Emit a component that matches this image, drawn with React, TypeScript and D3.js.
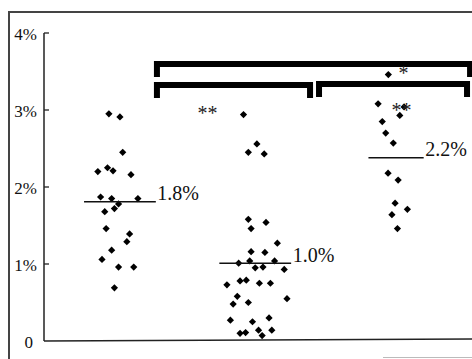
import React from "react";
import * as d3 from "d3";

// ---- data (values in %; jitter in group units) ----
const groupCenters = [1.0, 1.98, 3.0];
const meanValues = [1.81, 1.01, 2.38];
const meanLabels = ["1.8%", "1.0%", "2.2%"];

const group1Jitter = [-0.08, 0.0, 0.02, -0.16, -0.09, -0.05, 0.08, -0.14, -0.06, 0.13, -0.01, -0.04, -0.11, -0.1, 0.07, 0.05, -0.06, -0.13, -0.01, 0.1, -0.04];
const group1Values = [2.95, 2.91, 2.45, 2.2, 2.25, 2.21, 2.16, 1.87, 1.85, 1.85, 1.78, 1.72, 1.68, 1.46, 1.39, 1.29, 1.18, 1.06, 0.96, 0.96, 0.69];

const group2Jitter = [-0.085, 0.012, -0.05, 0.065, -0.05, 0.078, -0.03, 0.16, -0.03, 0.07, -0.12, -0.04, 0.14, 0.0, 0.056, 0.21, -0.205, -0.11, -0.065, 0.03, 0.11, -0.13, 0.23, -0.16, -0.05, -0.18, -0.02, 0.1, -0.11, -0.07, 0.024, 0.12, 0.05];
const group2Values = [2.94, 2.56, 2.45, 2.43, 1.58, 1.54, 1.46, 1.27, 1.16, 1.15, 1.01, 1.04, 1.04, 0.95, 0.96, 0.93, 0.73, 0.78, 0.79, 0.75, 0.75, 0.58, 0.55, 0.48, 0.5, 0.27, 0.25, 0.3, 0.1, 0.11, 0.14, 0.14, 0.07];

const group3Jitter = [-0.056, -0.13, 0.058, 0.027, -0.1, -0.075, -0.02, -0.058, 0.015, -0.007, 0.082, -0.03, 0.01];
const group3Values = [3.46, 3.08, 3.04, 2.93, 2.85, 2.7, 2.57, 2.18, 2.09, 1.79, 1.71, 1.64, 1.46];

const yTicks = [0, 1, 2, 3, 4];
const yTickLabels = ["0", "1%", "2%", "3%", "4%"];

// significance brackets: [from x-unit, to x-unit, bar level (%)]
const bracketFrom = [1.268, 1.268, 2.442];
const bracketTo = [3.536, 2.377, 3.514];
const bracketLevel = [3.597, 3.325, 3.338];

const starText = ["**", "*", "**"];
const starX = [1.634, 3.054, 3.04];
const starY = [2.99, 3.51, 3.03];

// ---- layout ----
const W = 472;
const H = 359;
const x = d3.scaleLinear().domain([0.45, 3.55]).range([44, 472]);
const y = d3.scaleLinear().domain([0, 4]).range([341, 33]);
const meanHalf = [0.26, 0.26, 0.2];
const legLen = 13;
const font = "'Liberation Serif', 'Times New Roman', Times, serif";

const groups = [
  { jitter: group1Jitter, values: group1Values },
  { jitter: group2Jitter, values: group2Values },
  { jitter: group3Jitter, values: group3Values },
];

const diamond = d3.symbol().type(d3.symbolSquare).size(26)() as string;

export default function App() {
  return (
    <svg
      width={W}
      height={H}
      viewBox={`0 0 ${W} ${H}`}
      style={{ position: "fixed", left: 0, top: 0, background: "#fff", fontFamily: font }}
    >
      {/* frame */}
      <path d={`M9,${H} L9,12 L${W},12`} fill="none" stroke="#444" strokeWidth={2} />
      <path d={`M383,357.5 L${W},357.5`} fill="none" stroke="#bbb" strokeWidth={1} />

      {/* axes */}
      <line x1={x(0.45)} y1={y(4)} x2={x(0.45)} y2={y(0)} stroke="#222" strokeWidth={1.5} />
      <line x1={x(0.45)} y1={y(0)} x2={W} y2={y(0) - 2} stroke="#222" strokeWidth={1.5} />
      {yTicks.map((t, i) => (
        <g key={t}>
          {t > 0 && (
            <line x1={x(0.45)} x2={x(0.45) + 5} y1={y(t)} y2={y(t)} stroke="#222" strokeWidth={1.3} />
          )}
          <text
            x={t === 0 ? 33 : 37}
            y={y(t) + 7}
            textAnchor="end"
            style={{ fontFamily: font, fontSize: 17 }}
            fill="#111"
          >
            {yTickLabels[i]}
          </text>
        </g>
      ))}

      {/* points */}
      {groups.map((g, gi) =>
        g.values.map((v, i) => (
          <path
            key={`${gi}-${i}`}
            d={diamond}
            transform={`translate(${x(groupCenters[gi] + g.jitter[i])},${y(v)}) rotate(45)`}
            fill="#000"
          />
        ))
      )}

      {/* means */}
      {meanValues.map((m, i) => {
        const x1 = x(groupCenters[i] - meanHalf[i]);
        const x2 = x(groupCenters[i] + meanHalf[i]);
        return (
          <g key={i}>
            <line x1={x1} x2={x2} y1={y(m)} y2={y(m)} stroke="#111" strokeWidth={1.5} />
            <text x={x2 + 1.5} y={y(m) - 1.5} style={{ fontFamily: font, fontSize: 20 }} fill="#111">
              {meanLabels[i]}
            </text>
          </g>
        );
      })}

      {/* brackets */}
      {bracketLevel.map((lv, i) => {
        const x1 = x(bracketFrom[i]);
        const x2 = x(bracketTo[i]);
        const yb = y(lv);
        return (
          <path
            key={i}
            d={`M${x1},${yb + legLen} L${x1},${yb} L${x2},${yb} L${x2},${yb + legLen}`}
            fill="none"
            stroke="#000"
            strokeWidth={6}
            strokeLinejoin="miter"
          />
        );
      })}

      {/* significance stars */}
      {starText.map((s, i) => (
        <text
          key={i}
          x={x(starX[i])}
          y={y(starY[i]) + 9}
          textAnchor="middle"
          style={{ fontFamily: font, fontSize: 20 }}
          fill="#222"
        >
          {s}
        </text>
      ))}
    </svg>
  );
}
